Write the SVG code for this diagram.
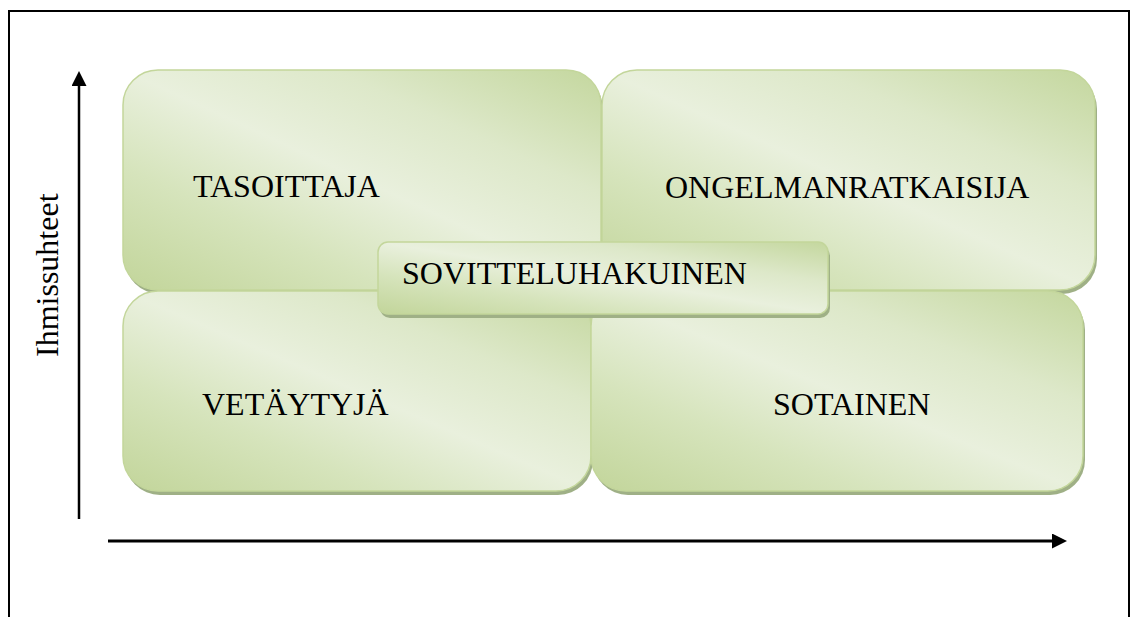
<svg xmlns="http://www.w3.org/2000/svg" width="1131" height="617" viewBox="0 0 1131 617">
  <style>
    .box { stroke: #c3d69b; stroke-width: 1.5; }
    .shadow { fill: #9fb086; }
    .lbl { font-family: "Liberation Serif", "Times New Roman", serif; font-size: 32px; fill: #000; }
    .axis { stroke: #000; fill: none; }
    .frame { stroke: #000; stroke-width: 2; fill: none; }
  </style>
  <defs>
    <linearGradient id="g" x1="0" y1="1" x2="1" y2="0">
      <stop offset="0" stop-color="#c2d59a"/>
      <stop offset="0.28" stop-color="#d6e4bc"/>
      <stop offset="0.5" stop-color="#e9f0dd"/>
      <stop offset="0.72" stop-color="#dde8c9"/>
      <stop offset="1" stop-color="#c4d79e"/>
    </linearGradient>
    <marker id="ah" markerUnits="userSpaceOnUse" markerWidth="16" markerHeight="16" refX="0" refY="7.5" orient="auto">
      <path d="M0,0 L15,7.5 L0,15 Z" fill="#000"/>
    </marker>
  </defs>

  <rect width="1131" height="617" fill="#fff"/>
  <path class="frame" d="M9,617 V11 H1129 V617"/>

  <g id="connectors">
    <line class="axis" x1="79" y1="519" x2="79" y2="86" stroke-width="2.5" marker-end="url(#ah)"/>
    <line class="axis" x1="108" y1="541" x2="1052" y2="541" stroke-width="3" marker-end="url(#ah)"/>
  </g>

  <g id="label-ihmissuhteet">
    <text class="lbl" transform="translate(58,357) rotate(-90)">Ihmissuhteet</text>
  </g>

  <g id="node-tasoittaja">
    <rect class="shadow" x="125" y="74" width="478" height="220" rx="35"/>
    <rect class="box" x="123" y="70" width="478" height="220" rx="35" fill="url(#g)"/>
    <text class="lbl" x="193" y="197">TASOITTAJA</text>
  </g>

  <g id="node-ongelmanratkaisija">
    <rect class="shadow" x="604" y="74" width="493" height="220" rx="35"/>
    <rect class="box" x="602" y="70" width="493" height="220" rx="35" fill="url(#g)"/>
    <text class="lbl" x="665" y="198">ONGELMANRATKAISIJA</text>
  </g>

  <g id="node-vetaytyja">
    <rect class="shadow" x="125" y="295" width="468" height="200" rx="35"/>
    <rect class="box" x="123" y="291" width="468" height="200" rx="35" fill="url(#g)"/>
    <text class="lbl" x="202" y="415">VETÄYTYJÄ</text>
  </g>

  <g id="node-sotainen">
    <rect class="shadow" x="593" y="295" width="492" height="200" rx="35"/>
    <rect class="box" x="591" y="291" width="492" height="200" rx="35" fill="url(#g)"/>
    <text class="lbl" x="773" y="415">SOTAINEN</text>
  </g>

  <g id="node-sovitteluhakuinen">
    <rect class="shadow" x="380" y="246" width="450" height="72" rx="10"/>
    <rect class="box" x="378" y="242" width="450" height="72" rx="10" fill="url(#g)"/>
    <text class="lbl" x="402" y="284">SOVITTELUHAKUINEN</text>
  </g>
</svg>
